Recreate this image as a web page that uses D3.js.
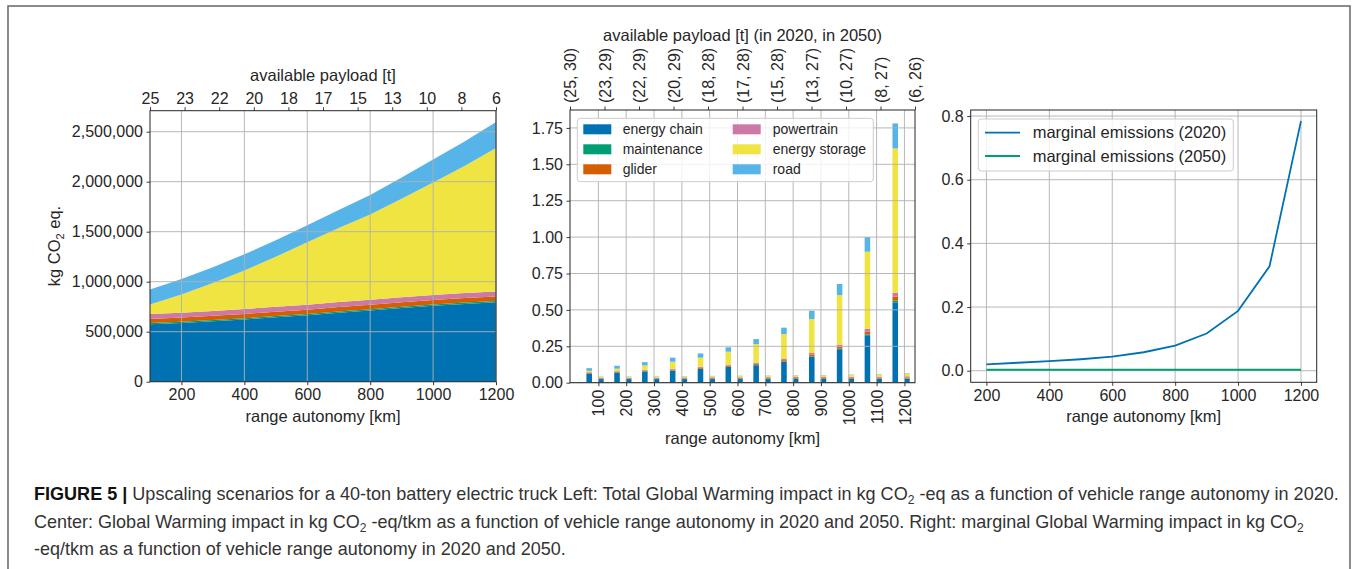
<!DOCTYPE html>
<html><head><meta charset="utf-8">
<script src="https://cdn.jsdelivr.net/npm/d3@7"></script>
<style>
body{margin:0;background:#fff;}
svg{display:block;font-family:"Liberation Sans",Arial,sans-serif;}
</style></head><body>
<svg id="fig" width="1357" height="569"></svg>
<script>
// ---------------- DATA ----------------
const ranges = [100,200,300,400,500,600,700,800,900,1000,1100,1200];
const seriesNames = ["energy chain","maintenance","glider","powertrain","energy storage","road"];
const seriesColors = ["#0072B2","#009E73","#D55E00","#CC79A7","#F0E442","#56B4E9"];

// Left panel: total kg CO2 eq (2020)
const totEnergyChain = [575000,588000,605000,623000,645000,665000,690000,713000,737000,760000,778000,795000];
const totMaintenance = [11000,11000,11500,11500,12000,12000,12000,12500,12500,13000,13000,13000];
const totGlider      = [42000,42000,42500,43000,43000,43500,44000,44000,44500,45000,45000,45000];
const totPowertrain  = [48000,48000,48500,49000,49000,49500,50000,50000,50000,50000,50000,50000];
const totStorage     = [97000,184000,280000,385000,500000,625000,740000,852000,985000,1124000,1270000,1434000];
const totRoad        = [150000,155000,158000,162000,165000,170000,182000,196000,212000,230000,245000,260000];
const payloadLabels  = ["25","23","22","20","18","17","15","13","10","8","6"];
const leftYTicks     = [0,500000,1000000,1500000,2000000,2500000];
const leftXTicks     = [200,400,600,800,1000,1200];

// Center panel: kg CO2 eq / tkm, 2020 and 2050
const ec2020      = [0.062,0.069,0.077,0.082,0.094,0.108,0.120,0.143,0.178,0.230,0.326,0.552];
const maint2020   = [0.001,0.0015,0.0015,0.002,0.002,0.002,0.0025,0.003,0.003,0.004,0.006,0.011];
const glider2020  = [0.004,0.004,0.005,0.005,0.006,0.007,0.007,0.009,0.011,0.013,0.018,0.027];
const pt2020      = [0.005,0.005,0.005,0.006,0.007,0.007,0.008,0.010,0.012,0.015,0.020,0.028];
const storage2020 = [0.010,0.017,0.030,0.049,0.063,0.089,0.128,0.169,0.233,0.340,0.530,0.991];
const road2020    = [0.018,0.020,0.023,0.028,0.029,0.030,0.034,0.044,0.057,0.076,0.100,0.172];

const ec2050      = [0.025,0.025,0.025,0.025,0.025,0.025,0.025,0.026,0.026,0.026,0.027,0.028];
const maint2050   = [0.001,0.001,0.001,0.001,0.001,0.001,0.001,0.001,0.001,0.001,0.001,0.001];
const glider2050  = [0.004,0.004,0.004,0.004,0.005,0.005,0.005,0.005,0.005,0.006,0.006,0.006];
const pt2050      = [0.005,0.005,0.005,0.006,0.006,0.006,0.007,0.007,0.007,0.008,0.008,0.009];
const storage2050 = [0.006,0.006,0.007,0.007,0.008,0.009,0.010,0.011,0.012,0.013,0.015,0.017];
const road2050    = [0.002,0.002,0.002,0.002,0.002,0.002,0.002,0.002,0.002,0.002,0.002,0.003];
const payloadPairs = ["(25, 30)","(23, 29)","(22, 29)","(20, 29)","(18, 28)","(17, 28)","(15, 28)","(13, 27)","(10, 27)","(8, 27)","(6, 26)"];
const centerYTicks = [0,0.25,0.5,0.75,1.0,1.25,1.5,1.75];

// Right panel: marginal emissions
const marginalRanges = [200,300,400,500,600,700,800,900,1000,1100,1200];
const marginal2020 = [0.020,0.025,0.030,0.036,0.044,0.058,0.079,0.117,0.188,0.328,0.784];
const marginal2050 = [0.003,0.003,0.003,0.003,0.003,0.003,0.003,0.003,0.003,0.003,0.003];
const rightYTicks = [0,0.2,0.4,0.6,0.8];
const rightXTicks = [200,400,600,800,1000,1200];

// ---------------- DRAW ----------------
const svg = d3.select("#fig");
svg.append("rect").attr("width",1357).attr("height",569).attr("fill","#fff");
svg.append("rect").attr("x",8).attr("y",6).attr("width",1342).attr("height",620)
  .attr("fill","none").attr("stroke","#6e6e6e").attr("stroke-width",1.6);

const FS = 16, GRID = "#b0b0b0", SPINE = "#262626", TXT = "#262626";

function styleAxis(g){
  g.select(".domain").remove();
  g.selectAll(".tick line").attr("stroke",SPINE).attr("stroke-width",0.9);
  g.selectAll(".tick text").attr("font-size",FS).attr("fill",TXT).attr("font-family","Liberation Sans, Arial, sans-serif");
}
function grid(g, x, y, xt, yt){
  const [x0,x1] = x.range(), [y0,y1] = y.range();
  g.selectAll("line.gx").data(xt).join("line").attr("class","gx")
    .attr("x1",d=>x(d)).attr("x2",d=>x(d)).attr("y1",y0).attr("y2",y1)
    .attr("stroke",GRID).attr("stroke-width",0.9);
  g.selectAll("line.gy").data(yt).join("line").attr("class","gy")
    .attr("x1",x0).attr("x2",x1).attr("y1",d=>y(d)).attr("y2",d=>y(d))
    .attr("stroke",GRID).attr("stroke-width",0.9);
}
function spines(x,y){
  const [x0,x1] = x.range(), [y0,y1] = y.range();
  svg.append("rect").attr("x",x0).attr("y",y1).attr("width",x1-x0).attr("height",y0-y1)
    .attr("fill","none").attr("stroke",SPINE).attr("stroke-width",1);
}

// ===== Left panel =====
{
  const x = d3.scaleLinear().domain([100,1200]).range([150,496]);
  const y = d3.scaleLinear().domain([0,2710000]).range([381.7,110.7]);
  const rows = ranges.map((r,i)=>({r, s0:totEnergyChain[i], s1:totMaintenance[i], s2:totGlider[i], s3:totPowertrain[i], s4:totStorage[i], s5:totRoad[i]}));
  const stack = d3.stack().keys(["s0","s1","s2","s3","s4","s5"])(rows);
  const area = d3.area().x(d=>x(d.data.r)).y0(d=>y(d[0])).y1(d=>y(d[1]));
  svg.append("g").selectAll("path").data(stack).join("path")
    .attr("d",area).attr("fill",(d,i)=>seriesColors[i]);
  grid(svg.append("g"), x, y, leftXTicks, leftYTicks);
  spines(x,y);
  const gx = svg.append("g").attr("transform","translate(0,381.7)")
    .call(d3.axisBottom(x).tickValues(leftXTicks).tickSize(3.5).tickPadding(3.5).tickFormat(d3.format("d")));
  styleAxis(gx);
  const gy = svg.append("g").attr("transform","translate(150,0)")
    .call(d3.axisLeft(y).tickValues(leftYTicks).tickSize(3.5).tickPadding(3.5).tickFormat(d3.format(",")));
  styleAxis(gy);
  // top payload axis: 11 evenly spaced ticks across the domain
  const xt = d3.scaleLinear().domain([0,payloadLabels.length-1]).range(x.range());
  const gt = svg.append("g").attr("transform","translate(0,110.7)")
    .call(d3.axisTop(xt).tickValues(d3.range(payloadLabels.length)).tickSize(3.5).tickPadding(3.5).tickFormat(i=>payloadLabels[i]));
  styleAxis(gt);
  svg.append("text").attr("x",323).attr("y",81).attr("text-anchor","middle")
    .attr("font-size",16.5).attr("fill",TXT).text("available payload [t]");
  svg.append("text").attr("x",323).attr("y",422).attr("text-anchor","middle")
    .attr("font-size",16.5).attr("fill",TXT).text("range autonomy [km]");
  const yl = svg.append("text").attr("transform","translate(60,246) rotate(-90)")
    .attr("text-anchor","middle").attr("font-size",16.5).attr("fill",TXT);
  yl.append("tspan").text("kg CO");
  yl.append("tspan").attr("font-size",11).attr("dy",4).text("2");
  yl.append("tspan").attr("dy",-4).text(" eq.");
}

// ===== Center panel =====
{
  const x = d3.scaleLinear().domain([-1.02,11.38]).range([570,915]);
  const y = d3.scaleLinear().domain([0,1.873]).range([382.7,110]);
  const idx = d3.range(ranges.length);
  const mk = (a,b,c,d,e,f)=>idx.map(i=>({i, s0:a[i],s1:b[i],s2:c[i],s3:d[i],s4:e[i],s5:f[i]}));
  const keys = ["s0","s1","s2","s3","s4","s5"];
  const st20 = d3.stack().keys(keys)(mk(ec2020,maint2020,glider2020,pt2020,storage2020,road2020));
  const st50 = d3.stack().keys(keys)(mk(ec2050,maint2050,glider2050,pt2050,storage2050,road2050));
  const bw = x(0.2)-x(0);
  const drawBars = (st, off)=>{
    svg.append("g").selectAll("g").data(st).join("g").attr("fill",(d,k)=>seriesColors[k])
      .selectAll("rect").data(d=>d).join("rect")
      .attr("x",d=>x(d.data.i+off)-bw/2).attr("width",bw)
      .attr("y",d=>y(d[1])).attr("height",d=>Math.max(0,y(d[0])-y(d[1])));
  };
  drawBars(st20,-0.33);
  drawBars(st50,0.09);
  grid(svg.append("g"), x, y, idx, centerYTicks);
  spines(x,y);
  const gx = svg.append("g").attr("transform","translate(0,382.7)")
    .call(d3.axisBottom(x).tickValues(idx).tickSize(3.5).tickPadding(3.5).tickFormat(i=>ranges[i]));
  styleAxis(gx);
  gx.selectAll(".tick text").attr("transform","rotate(-90)").attr("text-anchor","end")
    .attr("x",-7).attr("y",0).attr("dy","0.35em");
  const gy = svg.append("g").attr("transform","translate(570,0)")
    .call(d3.axisLeft(y).tickValues(centerYTicks).tickSize(3.5).tickPadding(3.5).tickFormat(d3.format(".2f")));
  styleAxis(gy);
  const xt = d3.scaleLinear().domain([0,payloadPairs.length-1]).range(x.range());
  const gt = svg.append("g").attr("transform","translate(0,110)")
    .call(d3.axisTop(xt).tickValues(d3.range(payloadPairs.length)).tickSize(3.5).tickPadding(3.5).tickFormat(i=>payloadPairs[i]));
  styleAxis(gt);
  gt.selectAll(".tick text").attr("transform","rotate(-90)").attr("text-anchor","start")
    .attr("x",7).attr("y",0).attr("dy","0.35em");
  svg.append("text").attr("x",742.5).attr("y",40.5).attr("text-anchor","middle")
    .attr("font-size",16.5).attr("fill",TXT).text("available payload [t] (in 2020, in 2050)");
  svg.append("text").attr("x",742.5).attr("y",444).attr("text-anchor","middle")
    .attr("font-size",16.5).attr("fill",TXT).text("range autonomy [km]");
  // legend
  const lg = svg.append("g");
  lg.append("rect").attr("x",577.3).attr("y",118.3).attr("width",296).attr("height",63.4).attr("rx",3)
    .attr("fill","#fff").attr("fill-opacity",0.8).attr("stroke","#cccccc").attr("stroke-width",1);
  seriesNames.forEach((n,k)=>{
    const col = Math.floor(k/3), row = k%3;
    const px = col===0 ? 583.3 : 732.7, tx = col===0 ? 622.7 : 772.7, cy = 129.3 + row*20;
    lg.append("rect").attr("x",px).attr("y",cy-5).attr("width",28).attr("height",10).attr("fill",seriesColors[k]);
    lg.append("text").attr("x",tx).attr("y",cy).attr("dy","0.35em").attr("font-size",14).attr("fill",TXT).text(n);
  });
}

// ===== Right panel =====
{
  const x = d3.scaleLinear().domain([150,1250]).range([970.7,1316.7]);
  const y = d3.scaleLinear().domain([-0.0364,0.819]).range([382.3,110]);
  grid(svg.append("g"), x, y, rightXTicks, rightYTicks);
  const line = d3.line().x((d,i)=>x(marginalRanges[i])).y(d=>y(d));
  svg.append("path").datum(marginal2020).attr("d",line).attr("fill","none").attr("stroke","#0072B2").attr("stroke-width",1.8);
  svg.append("path").datum(marginal2050).attr("d",line).attr("fill","none").attr("stroke","#009E73").attr("stroke-width",1.8);
  spines(x,y);
  const gx = svg.append("g").attr("transform","translate(0,382.3)")
    .call(d3.axisBottom(x).tickValues(rightXTicks).tickSize(3.5).tickPadding(3.5).tickFormat(d3.format("d")));
  styleAxis(gx);
  const gy = svg.append("g").attr("transform","translate(970.7,0)")
    .call(d3.axisLeft(y).tickValues(rightYTicks).tickSize(3.5).tickPadding(3.5).tickFormat(d3.format(".1f")));
  styleAxis(gy);
  svg.append("text").attr("x",1143.7).attr("y",422).attr("text-anchor","middle")
    .attr("font-size",16.5).attr("fill",TXT).text("range autonomy [km]");
  const lg = svg.append("g");
  lg.append("rect").attr("x",978.3).attr("y",119).attr("width",255).attr("height",52).attr("rx",3)
    .attr("fill","#fff").attr("fill-opacity",0.8).attr("stroke","#cccccc").attr("stroke-width",1);
  [["marginal emissions (2020)","#0072B2"],["marginal emissions (2050)","#009E73"]].forEach(([n,c],k)=>{
    const cy = 132.7 + k*23.3;
    lg.append("line").attr("x1",985).attr("x2",1020).attr("y1",cy).attr("y2",cy).attr("stroke",c).attr("stroke-width",1.8);
    lg.append("text").attr("x",1032.7).attr("y",cy).attr("dy","0.35em").attr("font-size",16.5).attr("fill",TXT).text(n);
  });
}

// ===== Caption =====
{
  const lines = [
    {y:500, end:1340, parts:[["FIGURE 5 |","b"],[" Upscaling scenarios for a 40-ton battery electric truck Left: Total Global Warming impact in kg CO",""],["2","s"],[" -eq as a function of vehicle range autonomy in 2020.",""]]},
    {y:528, end:1305, parts:[["Center: Global Warming impact in kg CO",""],["2","s"],[" -eq/tkm as a function of vehicle range autonomy in 2020 and 2050. Right: marginal Global Warming impact in kg CO",""],["2","s"]]},
    {y:555, end:566, parts:[["-eq/tkm as a function of vehicle range autonomy in 2020 and 2050.",""]]}
  ];
  const x0 = 34;
  lines.forEach(L=>{
    const t = svg.append("text").attr("x",0).attr("y",0).attr("font-size",18).attr("fill","#333");
    let sub = false;
    L.parts.forEach(([s,k])=>{
      const ts = t.append("tspan").text(s);
      if(k==="b") ts.attr("font-weight","bold").attr("fill","#111");
      if(k==="s"){ ts.attr("font-size",12).attr("dy",4); sub = true; }
      else if(sub){ ts.attr("dy",-4); sub = false; }
    });
    const w = t.node().getBBox().width;
    const sx = (L.end - x0)/w;
    t.attr("transform",`translate(${x0},${L.y}) scale(${sx},1)`);
  });
}
</script>
</body></html>
